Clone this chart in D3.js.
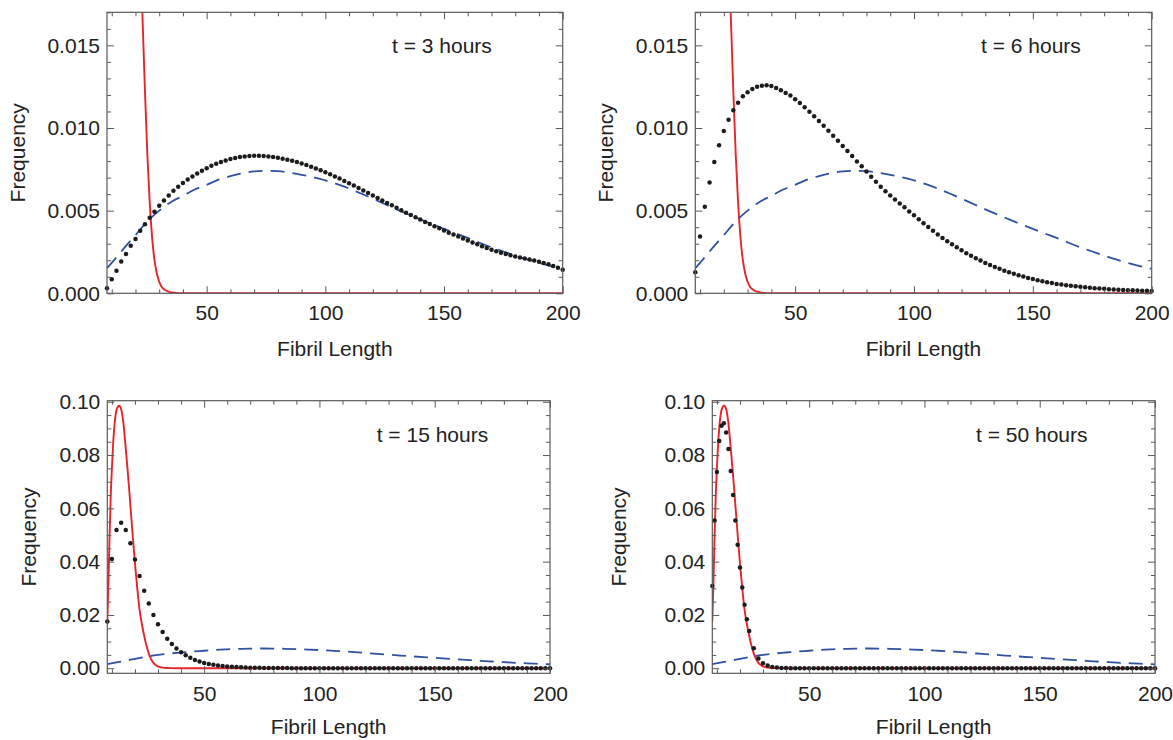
<!DOCTYPE html>
<html><head><meta charset="utf-8">
<script src="https://cdn.jsdelivr.net/npm/d3@7"></script>
<style>
html,body{margin:0;padding:0;background:#fff;}
svg{display:block;font-family:"Liberation Sans",Arial,Helvetica,sans-serif;}
</style>
</head><body>
<svg id="chart" width="1173" height="740"></svg>
<script>
// ---------------- DATA ----------------
const panelTitles = ["t = 3 hours", "t = 6 hours", "t = 15 hours", "t = 50 hours"];
const xAxisTitle = "Fibril Length";
const yAxisTitle = "Frequency";
const xTickLabels = [50, 100, 150, 200];
const yTicksTop = [0, 0.005, 0.010, 0.015];
const yTicksBottom = [0, 0.02, 0.04, 0.06, 0.08, 0.10];

// Solid red curve
const redX = [8, 8.5, 9, 9.5, 10, 10.5, 11, 11.5, 12, 12.5, 13, 13.5, 14, 15, 16, 17, 18, 19, 20, 21,
  22, 23, 24, 25, 26, 27, 28, 29, 30, 31, 32, 34, 36, 40, 50, 100, 150, 200];
const redY = [0.0175, 0.0325, 0.050, 0.065, 0.075, 0.0838, 0.090, 0.0944, 0.0969, 0.098, 0.0985, 0.0983, 0.0973, 0.0919, 0.0825, 0.0725, 0.0613, 0.050, 0.0394, 0.030,
  0.0219, 0.0165, 0.0122, 0.0084, 0.0055, 0.0034, 0.0020, 0.0012, 0.0007, 0.0004, 0.00025, 0.0001, 0.00004, 0, 0, 0, 0, 0];

// Dashed blue curve
const blueX = [8, 12, 16, 20, 25, 30, 35, 40, 45, 50, 55, 60, 65, 70, 75, 80, 85, 90, 95, 100,
  105, 110, 115, 120, 125, 130, 135, 140, 145, 150, 155, 160, 165, 170, 175, 180, 185, 190, 195, 200];
const blueY = [0.00152, 0.00218, 0.00287, 0.00352, 0.00435, 0.00500, 0.00553, 0.00590, 0.00628, 0.00656, 0.00688, 0.00709, 0.00726, 0.00737, 0.00741, 0.00739, 0.00730, 0.00717, 0.00701, 0.00683,
  0.00660, 0.00634, 0.00604, 0.00573, 0.00540, 0.00508, 0.00477, 0.00447, 0.00418, 0.00390, 0.00362, 0.00335, 0.00306, 0.00278, 0.00253, 0.00228, 0.00205, 0.00184, 0.00165, 0.00148];

// Dot positions (fibril length)
const dotsX = [8,10,12,14,16,18,20,22,24,26,28,30,32,34,36,38,40,42,44,46,
  48,50,52,54,56,58,60,62,64,66,68,70,72,74,76,78,80,82,84,86,
  88,90,92,94,96,98,100,102,104,106,108,110,112,114,116,118,120,122,124,126,
  128,130,132,134,136,138,140,142,144,146,148,150,152,154,156,158,160,162,164,166,
  168,170,172,174,176,178,180,182,184,186,188,190,192,194,196,198,200];
const dotsX50 = [8,9,10,11,12,13,14,15,16,17,18,19,20,21,22,23,24,
  26,28,30,32,34,36,38,40,42,44,46,48,50,52,54,56,58,60,62,64,66,68,70,72,74,76,78,80,82,84,86,
  88,90,92,94,96,98,100,102,104,106,108,110,112,114,116,118,120,122,124,126,
  128,130,132,134,136,138,140,142,144,146,148,150,152,154,156,158,160,162,164,166,
  168,170,172,174,176,178,180,182,184,186,188,190,192,194,196,198,200];

const dots3h = [0.0003, 0.00085, 0.00137, 0.00192, 0.00238, 0.00287, 0.00329, 0.00378, 0.00418, 0.00457,
  0.00493, 0.00529, 0.00562, 0.00592, 0.0062, 0.00644, 0.00667, 0.00689, 0.00707, 0.00725,
  0.00741, 0.00757, 0.00772, 0.00784, 0.00794, 0.00804, 0.00812, 0.00818, 0.00824, 0.00828,
  0.0083, 0.00832, 0.00832, 0.0083, 0.00828, 0.00824, 0.0082, 0.00814, 0.00808, 0.00802,
  0.00794, 0.00785, 0.00776, 0.00766, 0.00755, 0.00744, 0.00732, 0.0072, 0.00707, 0.00694,
  0.0068, 0.00666, 0.00652, 0.00637, 0.00622, 0.00607, 0.00592, 0.00577, 0.00562, 0.00547,
  0.00532, 0.00517, 0.00502, 0.00488, 0.00474, 0.0046, 0.00446, 0.00432, 0.00419, 0.00406,
  0.00393, 0.0038, 0.00367, 0.00355, 0.00343, 0.00331, 0.00319, 0.00307, 0.00296, 0.00285,
  0.00274, 0.00264, 0.00255, 0.00246, 0.00238, 0.0023, 0.00223, 0.00216, 0.0021, 0.00204,
  0.00198, 0.00191, 0.00184, 0.00175, 0.00165, 0.00154, 0.00143];

const dots6h = [0.00127, 0.00343, 0.00523, 0.00671, 0.00794, 0.00895, 0.00982, 0.0105, 0.01107, 0.01153,
  0.01192, 0.01216, 0.01236, 0.0125, 0.01256, 0.01258, 0.01254, 0.01242, 0.01228, 0.01212,
  0.01196, 0.01174, 0.01151, 0.01125, 0.01099, 0.01071, 0.01042, 0.01014, 0.00984, 0.00953,
  0.00923, 0.00891, 0.00861, 0.0083, 0.00798, 0.00768, 0.00737, 0.00705, 0.00675, 0.00644,
  0.00618, 0.00592, 0.00568, 0.00543, 0.00521, 0.00495, 0.00472, 0.00448, 0.00424, 0.00401,
  0.00378, 0.00356, 0.00335, 0.00315, 0.00296, 0.00278, 0.0026, 0.00243, 0.00227, 0.00212,
  0.00198, 0.00184, 0.00171, 0.00159, 0.00148, 0.00137, 0.00127, 0.00118, 0.00109, 0.00101,
  0.00093, 0.00086, 0.00079, 0.00073, 0.00067, 0.00062, 0.00057, 0.00053, 0.00049, 0.00045,
  0.00042, 0.00039, 0.00036, 0.00033, 0.00031, 0.00029, 0.00027, 0.00025, 0.00023, 0.00022,
  0.0002, 0.00019, 0.00018, 0.00017, 0.00016, 0.00015, 0.00014];

const dots15h = [0.0175, 0.041, 0.0519, 0.0546, 0.0519, 0.0469, 0.0408, 0.0346, 0.0291, 0.0243,
  0.020, 0.0165, 0.0136, 0.0111, 0.0091, 0.0074, 0.006, 0.0049, 0.0039, 0.0031,
  0.0025, 0.002, 0.0016, 0.0013, 0.001, 0.0008, 0.00065, 0.00052, 0.00042, 0.00034,
  0.00027, 0.00022, 0.00018, 0.00015, 0.00012, 0.0001, 0.00008, 0.00007, 0.00006, 0.00005,
  0.00004, 0.00004, 0.00004, 0.00003, 0.00003, 0.00003, 0.00003, 0.00003, 0.00003, 0.00003,
  0.00002, 0.00002, 0.00002, 0.00002, 0.00002, 0.00002, 0.00002, 0.00002, 0.00002, 0.00002,
  0.00002, 0.00002, 0.00001, 0.00001, 0.00001, 0.00001, 0.00001, 0.00001, 0.00001, 0.00001,
  0.00001, 0.00001, 0.00001, 0.00001, 0.00001, 0.00001, 0.00001, 0.00001, 0.00001, 0.00001,
  0.00001, 0.00001, 0.00001, 0.00001, 0.00001, 0.00001, 0.00001, 0.00001, 0.00001, 0.00001,
  0.00001, 0.00001, 0.00001, 0.00001, 0.00001, 0.00001, 0.00001];

const dots50h = [0.0309, 0.0554, 0.0736, 0.0853, 0.091, 0.0919, 0.0885, 0.0823, 0.074, 0.065,
  0.0554, 0.0463, 0.0378, 0.0303, 0.0238, 0.0184, 0.014,
  0.0075, 0.0037, 0.0019, 0.001, 0.0005, 0.00025, 0.00012, 0.00006, 0.00003, 0.00002,
  0.00001, 0.00001, 0.00001, 0.00001, 0.00001, 0.00001, 0.00001, 0.00001, 0.00001, 0.00001,
  0.00001, 0.00001, 0.00001, 0.00001, 0.00001, 0.00001, 0.00001, 0.00001, 0.00001, 0.00001,
  0, 0, 0, 0, 0, 0, 0, 0, 0, 0,
  0, 0, 0, 0, 0, 0, 0, 0, 0, 0,
  0, 0, 0, 0, 0, 0, 0, 0, 0, 0,
  0, 0, 0, 0, 0, 0, 0, 0, 0, 0,
  0, 0, 0, 0, 0, 0, 0, 0, 0, 0,
  0, 0, 0, 0, 0, 0, 0, 0];

// ---------------- DRAWING ----------------
const svg = d3.select("#chart");
const FONT = 21;
const TXT = "#222";
const FRAME = "#5a5a5a";

const panels = [
  {title: panelTitles[0], dx: dotsX, dy: dots3h, box:{l:107, r:562.7, t:12.3, b:293.3}, kind:"top",
   titlePos:[392, 53], freqX:24.7, xTitleY:355.7, padX:12},
  {title: panelTitles[1], dx: dotsX, dy: dots6h, box:{l:695.3, r:1151.7, t:12.3, b:293.3}, kind:"top",
   titlePos:[981, 53], freqX:613, xTitleY:355.7, padX:12},
  {title: panelTitles[2], dx: dotsX, dy: dots15h, box:{l:107.3, r:550, t:400.7, b:673.3}, kind:"bottom",
   titlePos:[376.7, 441.7], freqX:36.4, xTitleY:734, padX:13},
  {title: panelTitles[3], dx: dotsX50, dy: dots50h, box:{l:712.3, r:1155, t:400.7, b:673.3}, kind:"bottom",
   titlePos:[976, 441.7], freqX:626.4, xTitleY:734, padX:13}
];

const redData = redX.map((x, i) => [x, redY[i]]);
const blueData = blueX.map((x, i) => [x, blueY[i]]);

panels.forEach((p, pi) => {
  const b = p.box;
  const x = d3.scaleLinear().domain([8, 200]).range([b.l, b.r]);
  let y, yMajor, yMinor, fmt;
  if (p.kind === "top") {
    y = d3.scaleLinear().domain([0, 0.017]).range([b.b, b.t]);
    yMajor = yTicksTop;
    yMinor = d3.range(0, 0.01701, 0.001).filter(v => !yMajor.some(m => Math.abs(m - v) < 1e-9));
    fmt = d3.format(".3f");
  } else {
    y = d3.scaleLinear().domain([-0.0019, 0.1004]).range([b.b, b.t]);
    yMajor = yTicksBottom;
    yMinor = d3.range(0, 0.1001, 0.005).filter(v => !yMajor.some(m => Math.abs(m - v) < 1e-9));
    fmt = d3.format(".2f");
  }
  const xMinor = d3.range(10, 201, 10).filter(v => !xTickLabels.includes(v));

  const g = svg.append("g");
  const clipId = "clip" + pi;
  g.append("clipPath").attr("id", clipId).append("rect")
    .attr("x", b.l).attr("y", b.t).attr("width", b.r - b.l).attr("height", b.b - b.t);

  const plot = g.append("g").attr("clip-path", `url(#${clipId})`);
  const lineGen = d3.line().x(d => x(d[0])).y(d => y(d[1])).curve(d3.curveMonotoneX);

  plot.append("path").datum(redData).attr("d", lineGen)
    .attr("fill", "none").attr("stroke", "#e8232a").attr("stroke-width", 1.9);
  plot.append("path").datum(blueData).attr("d", lineGen)
    .attr("fill", "none").attr("stroke", "#2f52a0").attr("stroke-width", 1.8)
    .attr("stroke-dasharray", "14,8");

  // dots
  g.append("g").selectAll("circle").data(p.dx.map((v, i) => [v, p.dy[i]])).join("circle")
    .attr("cx", d => x(d[0])).attr("cy", d => y(d[1])).attr("r", 2.25).attr("fill", "#1c1c1c");

  // axes
  const styleAxis = sel => {
    sel.select(".domain").remove();
    sel.selectAll("line").attr("stroke", FRAME).attr("stroke-width", 1);
    sel.selectAll("text").attr("fill", TXT).style("font-size", FONT + "px")
      .style("font-family", '"Liberation Sans", Arial, sans-serif');
  };
  // left
  g.append("g").attr("transform", `translate(${b.l},0)`)
    .call(d3.axisLeft(y).tickValues(yMajor).tickFormat(fmt).tickSize(-7).tickPadding(7)).call(styleAxis);
  g.append("g").attr("transform", `translate(${b.l},0)`)
    .call(d3.axisLeft(y).tickValues(yMinor).tickFormat("").tickSize(-4)).call(styleAxis);
  // right
  g.append("g").attr("transform", `translate(${b.r},0)`)
    .call(d3.axisRight(y).tickValues(yMajor).tickFormat("").tickSize(-7)).call(styleAxis);
  g.append("g").attr("transform", `translate(${b.r},0)`)
    .call(d3.axisRight(y).tickValues(yMinor).tickFormat("").tickSize(-4)).call(styleAxis);
  // bottom
  g.append("g").attr("transform", `translate(0,${b.b})`)
    .call(d3.axisBottom(x).tickValues(xTickLabels).tickFormat(d3.format("d")).tickSize(-7).tickPadding(p.padX)).call(styleAxis);
  g.append("g").attr("transform", `translate(0,${b.b})`)
    .call(d3.axisBottom(x).tickValues(xMinor).tickFormat("").tickSize(-4)).call(styleAxis);
  // top
  g.append("g").attr("transform", `translate(0,${b.t})`)
    .call(d3.axisTop(x).tickValues(xTickLabels).tickFormat("").tickSize(-7)).call(styleAxis);
  g.append("g").attr("transform", `translate(0,${b.t})`)
    .call(d3.axisTop(x).tickValues(xMinor).tickFormat("").tickSize(-4)).call(styleAxis);

  // frame
  g.append("rect").attr("x", b.l).attr("y", b.t).attr("width", b.r - b.l).attr("height", b.b - b.t)
    .attr("fill", "none").attr("stroke", FRAME).attr("stroke-width", 1.2);

  // annotation
  g.append("text").attr("x", p.titlePos[0]).attr("y", p.titlePos[1]).text(p.title)
    .attr("fill", TXT).style("font-size", FONT + "px");
  // x title
  g.append("text").attr("x", (b.l + b.r) / 2).attr("y", p.xTitleY).attr("text-anchor", "middle")
    .text(xAxisTitle).attr("fill", TXT).style("font-size", FONT + "px");
  // y title
  g.append("text").attr("transform", `translate(${p.freqX},${(b.t + b.b) / 2}) rotate(-90)`)
    .attr("text-anchor", "middle").text(yAxisTitle).attr("fill", TXT).style("font-size", FONT + "px");
});
</script>
</body></html>
